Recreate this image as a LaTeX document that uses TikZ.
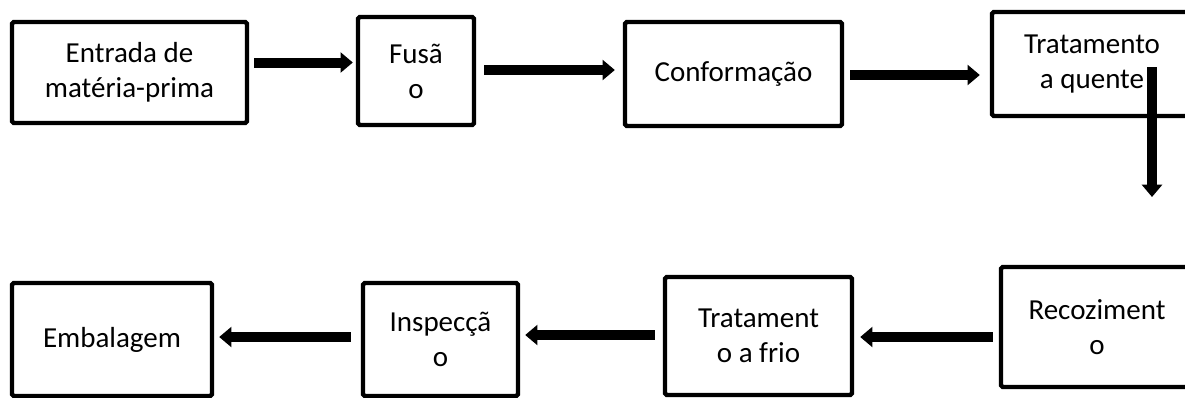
\documentclass[tikz,border=0pt]{standalone}
\usepackage{fontspec}
\setmainfont{Carlito}
\usetikzlibrary{arrows.meta}

\begin{document}
\begin{tikzpicture}[x=0.02cm, y=-0.02cm,
        box/.style={draw, line width=2.5pt, rounded corners=1pt, align=center, inner sep=0pt,
            font=\fontsize{16.5}{19.9}\selectfont},
        flow/.style={line width=5.7pt, -{Triangle[width=11.3pt, length=7pt]}}]
            \useasboundingbox (0,0) rectangle (1185,397);
            % Define steps, first row
            \node[box, minimum width=4.7cm, minimum height=2.02cm] (in) at (129.5, 72.5) {Entrada de\\matéria-prima};
            \node[box, minimum width=2.32cm, minimum height=2.16cm] (fus) at (416, 71) {Fusã\\o};
            \node[box, minimum width=4.34cm, minimum height=2.08cm] (conf) at (733.5, 74) {Conformação};
            \node[box, minimum width=4.0cm, minimum height=2.08cm] (hot) at (1092, 64) {Tratamento\\a quente};
            % Define steps, second row
            \node[box, minimum width=3.84cm, minimum height=2.4cm] (rec) at (1097, 327) {Recoziment\\o};
            \node[box, minimum width=3.74cm, minimum height=2.36cm] (cold) at (758.5, 336) {Tratament\\o a frio};
            \node[box, minimum width=3.1cm, minimum height=2.26cm] (insp) at (440.5, 339.5) {Inspecçã\\o};
            \node[box, minimum width=4.0cm, minimum height=2.26cm] (pack) at (112, 339.5) {Embalagem};
            \coordinate (drop) at (1152, 197);
            % Draw arrows between steps
            \draw[flow] ([shift={(5,-10)}]in.east) -- ([shift={(-3,-10)}]in.east -| fus.west);
            \draw[flow] ([shift={(8,-1)}]fus.east) -- ([shift={(-8,-1)}]fus.east -| conf.west);
            \draw[flow] ([shift={(6,1)}]conf.east) -- ([shift={(-10,1)}]conf.east -| hot.west);
            \draw[flow] ([shift={(60,3)}]hot.center) -- (drop);
            \draw[flow] ([shift={(-6,10)}]rec.west) -- ([shift={(6,10)}]rec.west -| cold.east);
            \draw[flow] ([shift={(-8,-1)}]cold.west) -- ([shift={(5,-1)}]cold.west -| insp.east);
            \draw[flow] ([shift={(-10,-2.5)}]insp.west) -- ([shift={(5,-2.5)}]insp.west -| pack.east);
        \end{tikzpicture}
\end{document}
